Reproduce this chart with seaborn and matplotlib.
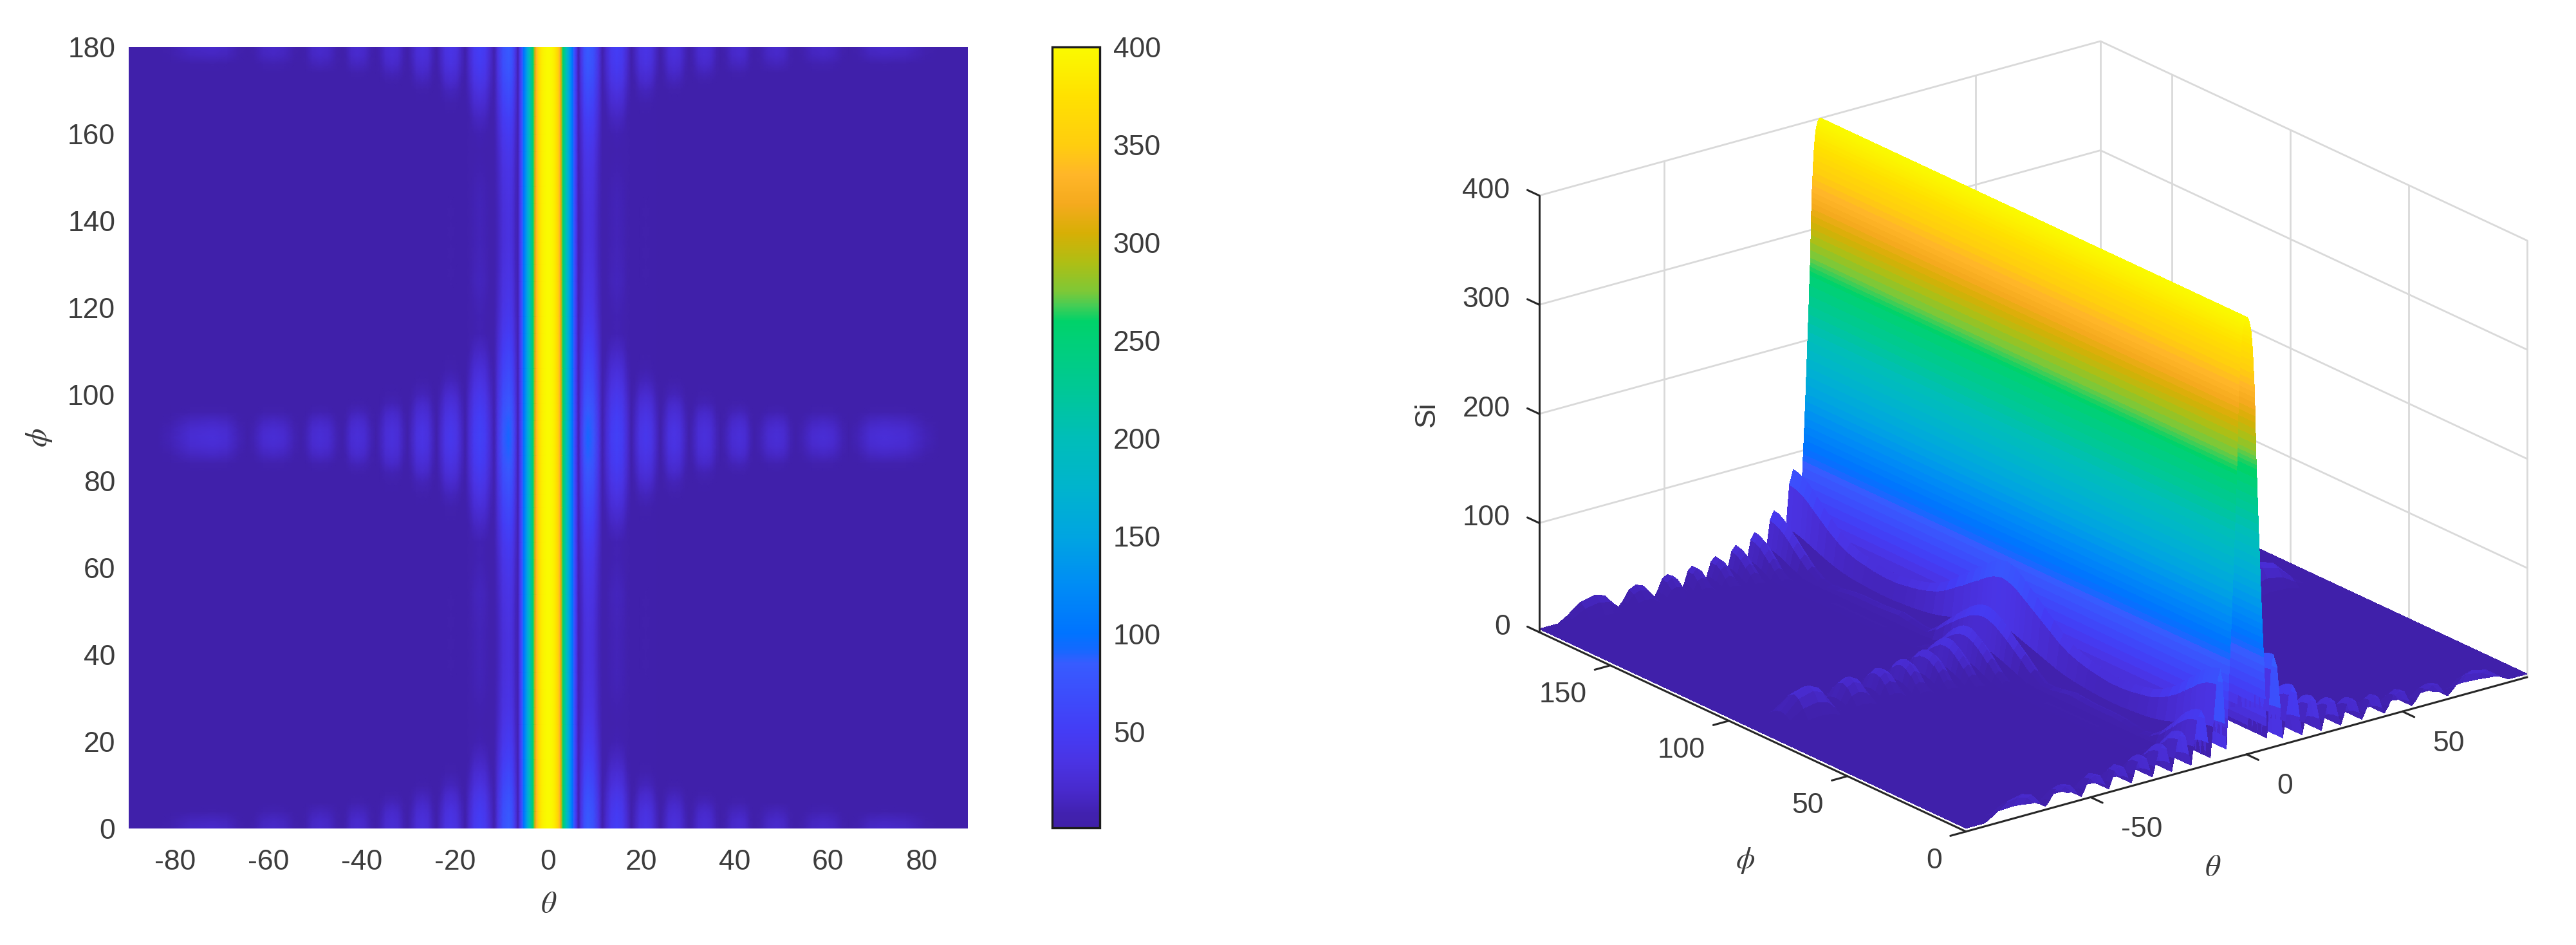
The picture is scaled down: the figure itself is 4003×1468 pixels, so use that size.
import numpy as np
import pandas as pd
import matplotlib
matplotlib.use("Agg")
import matplotlib.pyplot as plt
from matplotlib.colors import LinearSegmentedColormap, Normalize
from mpl_toolkits.mplot3d import proj3d
import seaborn as sns

sns.set_theme(style="white", font="Liberation Sans")
plt.rcParams["mathtext.fontset"] = "stix"

# --- Main beam cut: Si against |theta| in degrees, denser where the wall is steepest ---
beam_theta = [0, .1, .2, .3, .4, .5, .6, .7, .8, .9,
              1, 1.1, 1.2, 1.3, 1.4, 1.5, 1.6, 1.7, 1.8, 1.9,
              2, 2.1, 2.2, 2.3, 2.4, 2.5, 2.55, 2.6, 2.65, 2.7, 2.75, 2.8, 2.85, 2.9, 2.95,
              3, 3.05, 3.1, 3.15, 3.2, 3.3, 3.4, 3.5, 3.6, 3.7, 3.8, 3.9,
              4, 4.1, 4.2, 4.3, 4.4, 4.5, 4.6, 4.7, 4.8, 4.9,
              5, 5.1, 5.2, 5.3, 5.4, 5.5, 5.6, 5.7, 5.8, 5.9,
              6, 6.1, 6.2, 6.3, 6.4]
beam_si = [400, 400, 400, 400, 399, 399, 398, 397, 396, 395,
           394, 392, 391, 389, 387, 385, 381, 378, 374, 370,
           365, 359, 353, 347, 341, 335, 330, 325, 320, 314, 308, 302, 296, 289, 282,
           275, 271, 267, 263, 259, 250, 241, 232, 224, 216, 208, 200,
           192, 184, 176, 168, 160, 152, 145, 138, 130, 123,
           116, 110, 103, 97, 91, 85, 77, 70, 62, 54,
           46, 38, 29, 21, 14]

# --- Side lobes: nulls, crests and the level left in each null ---
null_theta = [6.5, 11.6, 17.8, 24, 30.2, 37, 44.2, 53, 64.5, 84]
null_si = [10, 6, 4, 3, 3, 3, 3, 3, 3, 3]
crest_theta = [8.5, 14.7, 20.9, 27, 33.5, 41, 49, 59, 72]
lobe_rise = [0.25, 0.6]
lobe_shape = [0.4, 0.85, 1.0, 0.85, 0.4]

# Angular distance from the nearest principal plane, degrees
plane_offset = [0, 2, 4, 6, 8, 10, 13, 16, 20, 24, 28, 32, 36, 40, 45]

# Crest height of each lobe (columns) at each plane offset (rows), around phi = 0 / 180
crest_edge = np.array([
    [85, 52, 37, 30, 25, 22, 20.6, 19, 20],
    [84, 51, 36, 29, 24, 21, 19, 16, 15],
    [82, 48, 33, 25, 20, 15, 13, 9, 5],
    [79, 44, 27, 19, 13, 8, 4, 3, 2],
    [75, 39, 21, 13, 6, 2, 2, 1, 1],
    [70, 33, 14, 6, 2, 2, 2, 1, 1],
    [63, 25, 7, 3, 2, 2, 1, 1, 1],
    [56, 17, 4, 2, 2, 1, 1, 1, 1],
    [48, 10, 3, 2, 2, 1, 1, 1, 1],
    [42, 8, 3, 2, 2, 1, 1, 1, 1],
    [38, 9, 3, 2, 2, 1, 1, 1, 1],
    [36, 11, 4, 2, 2, 1, 1, 1, 1],
    [34, 12, 5, 3, 2, 1, 1, 1, 1],
    [33, 12, 5, 3, 2, 1, 1, 1, 1],
    [33, 12, 5, 3, 2, 1, 1, 1, 1],
])

# Same readings around phi = 90
crest_mid = np.array([
    [92, 56, 42, 36, 30, 28, 26, 26, 28],
    [91, 55, 41, 35, 29, 26, 24, 23, 25],
    [89, 53, 38, 31, 25, 21, 18, 16, 17],
    [86, 50, 34, 26, 19, 13, 9, 7, 7],
    [82, 46, 29, 20, 11, 6, 3, 2, 2],
    [78, 42, 23, 13, 6, 2, 2, 1, 1],
    [72, 35, 14, 6, 2, 2, 1, 1, 1],
    [66, 28, 8, 3, 2, 1, 1, 1, 1],
    [58, 18, 4, 2, 2, 1, 1, 1, 1],
    [50, 10, 3, 2, 2, 1, 1, 1, 1],
    [44, 10, 3, 2, 2, 1, 1, 1, 1],
    [40, 12, 4, 2, 2, 1, 1, 1, 1],
    [37, 14, 5, 3, 2, 1, 1, 1, 1],
    [35, 13, 5, 3, 2, 1, 1, 1, 1],
    [33, 12, 5, 3, 2, 1, 1, 1, 1],
])

# Colour scale: Si level and its colour
scale_si = [1, 8, 20, 35, 50, 70, 85, 92, 100, 125, 150, 175, 200, 225, 250, 260,
            268, 275, 290, 305, 320, 335, 350, 375, 400]
scale_rgb = [(64, 32, 168), (65, 33, 175), (72, 42, 205), (74, 52, 228), (68, 60, 245),
             (60, 78, 252), (55, 92, 255), (20, 105, 255), (0, 115, 255), (0, 140, 245),
             (0, 165, 225), (0, 180, 205), (0, 190, 185), (0, 200, 150), (0, 208, 120),
             (0, 210, 105), (70, 205, 85), (125, 200, 55), (175, 190, 20), (215, 175, 5),
             (245, 170, 30), (255, 182, 40), (255, 205, 15), (255, 225, 0), (250, 250, 0)]

theta_ticks = [-80, -60, -40, -20, 0, 20, 40, 60, 80]
phi_ticks = [0, 20, 40, 60, 80, 100, 120, 140, 160, 180]
bar_ticks = [50, 100, 150, 200, 250, 300, 350, 400]
theta_ticks_3d = [-50, 0, 50]
phi_ticks_3d = [0, 50, 100, 150]
si_ticks_3d = [0, 100, 200, 300, 400]

# --- Assemble the (phi, theta) table from the readings above ---
off = np.array(plane_offset, float)
phi_nodes = np.concatenate([off, 90 - off[-2::-1], 90 + off[1:], 180 - off[-2::-1]])
crests = np.vstack([crest_edge, crest_mid[-2::-1], crest_mid[1:], crest_edge[-2::-1]])

half_theta = list(beam_theta)
half_cols = [np.full(phi_nodes.size, v, float) for v in beam_si]
for i, crest in enumerate(crest_theta):
    lo, hi = null_theta[i], null_theta[i + 1]
    half_theta.append(lo)
    half_cols.append(np.full(phi_nodes.size, null_si[i], float))
    points = [lo + (crest - lo) * lobe_rise[0], lo + (crest - lo) * lobe_rise[1], crest,
              crest + (hi - crest) * (1 - lobe_rise[1]), crest + (hi - crest) * (1 - lobe_rise[0])]
    for t, s in zip(points, lobe_shape):
        half_theta.append(t)
        half_cols.append(np.maximum(null_si[i], crests[:, i] * s))
half_theta += [null_theta[-1], 90]
half_cols += [np.full(phi_nodes.size, null_si[-1], float)] * 2

half_theta = np.array(half_theta)
half_table = np.column_stack(half_cols)
theta_nodes = np.concatenate([-half_theta[:0:-1], half_theta])
si_table = np.hstack([half_table[:, :0:-1], half_table])
field = pd.DataFrame(si_table, index=phi_nodes, columns=theta_nodes)

# Colormap with stops placed at their Si level
vmin, vmax = scale_si[0], scale_si[-1]
stops = [((s - vmin) / (vmax - vmin), tuple(c / 255 for c in rgb)) for s, rgb in zip(scale_si, scale_rgb)]
si_cmap = LinearSegmentedColormap.from_list("si_scale", stops, N=1024)
norm = Normalize(vmin, vmax)

W, H = 4003, 1468
DPI = 100
TEXT = "#3c3c3c"
FS = 32
fig = plt.figure(figsize=(W / DPI, H / DPI), dpi=DPI, facecolor="white")


def px_rect(left, top, right, bottom):
    return [left / W, 1 - bottom / H, (right - left) / W, (bottom - top) / H]


def px_text(x, y, s, **kw):
    fig.text(x / W, 1 - y / H, s, ha=kw.pop("ha", "center"), va=kw.pop("va", "center"),
             color=TEXT, **kw)


# --- Map view ---
ax = fig.add_axes(px_rect(200, 73, 1504, 1287))
sns.heatmap(field, ax=ax, cmap=si_cmap, vmin=vmin, vmax=vmax, cbar=False,
            xticklabels=False, yticklabels=False, shading="gouraud")
col_idx = np.arange(theta_nodes.size, dtype=float)
row_idx = np.arange(phi_nodes.size, dtype=float)
# The heatmap runs on table indices; these scales lay them out in degrees
ax.set_xscale("function", functions=(lambda v: np.interp(v, col_idx, theta_nodes),
                                     lambda v: np.interp(v, theta_nodes, col_idx)))
ax.set_yscale("function", functions=(lambda v: np.interp(v, row_idx, phi_nodes),
                                     lambda v: np.interp(v, phi_nodes, row_idx)))
ax.set_xlim(0, col_idx[-1])
ax.set_ylim(0, row_idx[-1])
ax.set_xticks(np.interp(theta_ticks, theta_nodes, col_idx), [str(t) for t in theta_ticks])
ax.set_yticks(np.interp(phi_ticks, phi_nodes, row_idx), [str(t) for t in phi_ticks])
ax.minorticks_off()
ax.tick_params(axis="x", length=0, pad=23, labelsize=FS, labelcolor=TEXT)
ax.tick_params(axis="y", length=0, pad=15, labelsize=FS, labelcolor=TEXT)
px_text(853, 1405, r"$\theta$", fontsize=FS + 2)
px_text(61, 680, r"$\phi$", fontsize=FS + 2, rotation=90)

# --- Colour bar ---
cax = fig.add_axes(px_rect(1635, 73, 1709, 1286))
bar = fig.colorbar(plt.cm.ScalarMappable(norm=norm, cmap=si_cmap), cax=cax, ticks=bar_ticks)
bar.outline.set_edgecolor("#1c1c1c")
bar.outline.set_linewidth(2.4)
cax.tick_params(axis="y", direction="in", length=9, width=2, color="#1c1c1c",
                pad=15, labelsize=FS, labelcolor=TEXT, right=True)
cax.minorticks_off()

# --- Surface view ---
ax3 = fig.add_axes(px_rect(2300, 0, 4003, 1468), projection="3d", computed_zorder=False)
ax3.set_proj_type("ortho")
ax3.view_init(elev=21, azim=-127.5)
ax3.set_box_aspect((1100, 1090, 727))
ax3.set_xlim(-90, 90)
ax3.set_ylim(0, 180)
ax3.set_zlim(0, 400)
ax3.set_axis_off()
ax3.patch.set_alpha(0)

TH, PH = np.meshgrid(theta_nodes, phi_nodes)
ax3.plot_surface(TH, PH, si_table, facecolors=si_cmap(norm(si_table)), rstride=1, cstride=1,
                 shade=False, linewidth=0, antialiased=False, zorder=2)

GRID = {"color": "#d9d9d9", "lw": 2.0, "zorder": 1}
AXIS = {"color": "#262626", "lw": 2.2, "zorder": 3}

for z in si_ticks_3d:
    ax3.plot([-90, 90, 90], [180, 180, 0], [z, z, z], **GRID)
for t in theta_ticks_3d + [90]:
    ax3.plot([t, t], [180, 180], [0, 400], **GRID)
for p in phi_ticks_3d:
    ax3.plot([90, 90], [p, p], [0, 400], **GRID)

ax3.plot([-90, -90], [180, 180], [0, 400], **AXIS)
ax3.plot([-90, -90], [0, 180], [0, 0], **AXIS)
ax3.plot([-90, 90], [0, 0], [0, 0], **AXIS)

for z in si_ticks_3d:
    ax3.plot([-90, -90], [180, 185], [z, z], **AXIS)
for p in phi_ticks_3d:
    ax3.plot([-90, -95], [p, p], [0, 0], **AXIS)
for t in theta_ticks_3d:
    ax3.plot([t, t], [0, -5], [0, 0], **AXIS)

px_text(2712, 1337, r"$\phi$", fontsize=FS + 2)
px_text(3439, 1348, r"$\theta$", fontsize=FS + 2)
px_text(2217, 643, "Si", fontsize=FS, rotation=90)


def world_px(t, p, z):
    x, y, _ = proj3d.proj_transform(t, p, z, ax3.get_proj())
    return ax3.transData.transform((x, y))


# Fit the square 3D frame so the floor corners land where the layout wants them
target_left = np.array([2392.0, H - 980.0])
target_right = np.array([3927.0, H - 1054.0])
side, x0, y0 = 1500.0, 2400.0, 0.0
for _ in range(3):
    ax3.set_position([x0 / W, y0 / H, side / W, side / H])
    fig.canvas.draw()
    a, b = world_px(-90, 180, 0), world_px(90, 0, 0)
    scale = np.linalg.norm(target_right - target_left) / np.linalg.norm(b - a)
    centre = np.array([x0 + side / 2, y0 + side / 2])
    mid_now = (a + b) / 2
    centre_new = centre + (target_left + target_right) / 2 - (centre + (mid_now - centre) * scale)
    side *= scale
    x0, y0 = centre_new - side / 2

ax3.set_position([x0 / W, y0 / H, side / W, side / H])
fig.canvas.draw()


# Tick labels of the surface view, anchored to projected axis positions
def axis_label(t, p, z, s, ha):
    x, y = world_px(t, p, z)
    fig.text(x / W, y / H, s, ha=ha, va="center", fontsize=FS, color=TEXT)


for z in si_ticks_3d:
    axis_label(-90, 192.3, z - 8, str(z), "right")
for p in phi_ticks_3d:
    axis_label(-107.4, p - 12.9, 0, str(p), "right")
for t in theta_ticks_3d:
    axis_label(t - 7.8, -23.1, 0, str(t), "left")

fig.savefig("out.png", dpi=DPI, facecolor="white")
